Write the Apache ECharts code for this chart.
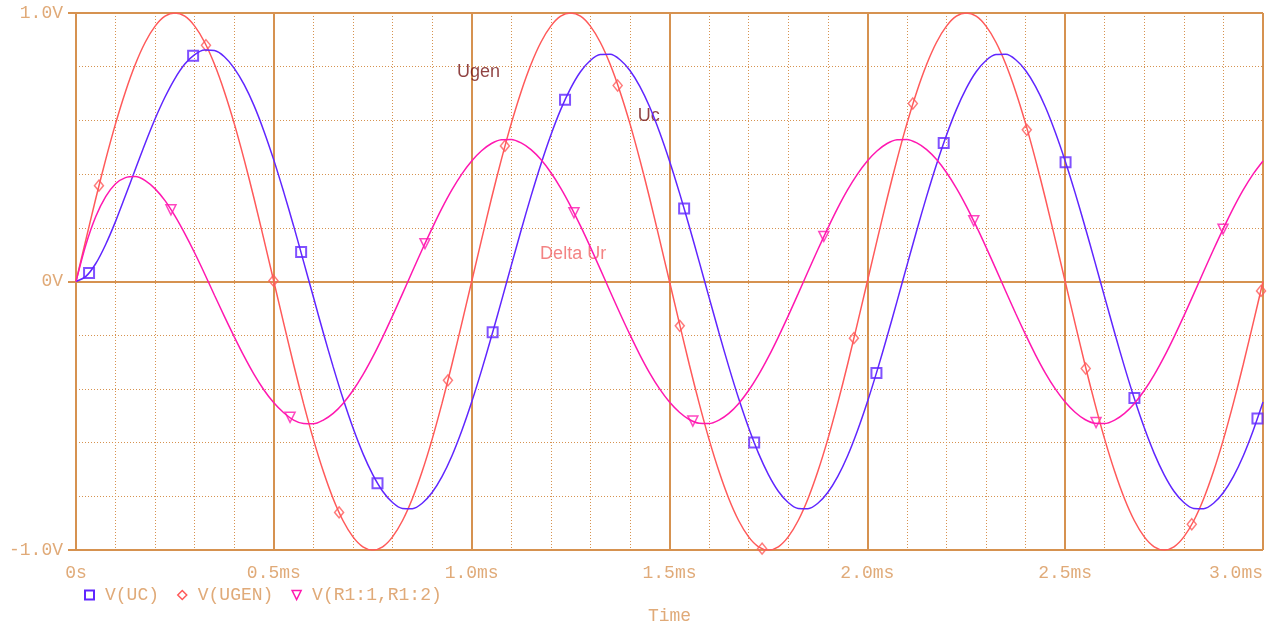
<!DOCTYPE html>
<html>
<head>
    <meta charset="utf-8">
    <title>PSpice RC</title>
    <script src="https://cdnjs.cloudflare.com/ajax/libs/echarts/6.0.0/echarts.min.js"></script>
    <style>
        html, body { margin: 0; padding: 0; background: #fff; }
    </style>
</head>
<body>
    <div id="main" style="width: 1271px;height:623px;"></div>
    <script type="text/javascript">
        // time in ms, one sample every 0.025 ms
        var time = [0, 0.025, 0.05, 0.075, 0.1, 0.125, 0.15, 0.175, 0.2, 0.225, 0.25, 0.275, 0.3, 0.325, 0.35, 0.375, 0.4, 0.425, 0.45, 0.475,
            0.5, 0.525, 0.55, 0.575, 0.6, 0.625, 0.65, 0.675, 0.7, 0.725, 0.75, 0.775, 0.8, 0.825, 0.85, 0.875, 0.9, 0.925, 0.95, 0.975,
            1.0, 1.025, 1.05, 1.075, 1.1, 1.125, 1.15, 1.175, 1.2, 1.225, 1.25, 1.275, 1.3, 1.325, 1.35, 1.375, 1.4, 1.425, 1.45, 1.475,
            1.5, 1.525, 1.55, 1.575, 1.6, 1.625, 1.65, 1.675, 1.7, 1.725, 1.75, 1.775, 1.8, 1.825, 1.85, 1.875, 1.9, 1.925, 1.95, 1.975,
            2.0, 2.025, 2.05, 2.075, 2.1, 2.125, 2.15, 2.175, 2.2, 2.225, 2.25, 2.275, 2.3, 2.325, 2.35, 2.375, 2.4, 2.425, 2.45, 2.475,
            2.5, 2.525, 2.55, 2.575, 2.6, 2.625, 2.65, 2.675, 2.7, 2.725, 2.75, 2.775, 2.8, 2.825, 2.85, 2.875, 2.9, 2.925, 2.95, 2.975,
            3.0];

        var ugen = [0, 0.156, 0.309, 0.454, 0.588, 0.707, 0.809, 0.891, 0.951, 0.988, 1, 0.988, 0.951, 0.891, 0.809, 0.707, 0.588, 0.454, 0.309, 0.156,
            0, -0.156, -0.309, -0.454, -0.588, -0.707, -0.809, -0.891, -0.951, -0.988, -1, -0.988, -0.951, -0.891, -0.809, -0.707, -0.588, -0.454, -0.309, -0.156,
            0, 0.156, 0.309, 0.454, 0.588, 0.707, 0.809, 0.891, 0.951, 0.988, 1, 0.988, 0.951, 0.891, 0.809, 0.707, 0.588, 0.454, 0.309, 0.156,
            0, -0.156, -0.309, -0.454, -0.588, -0.707, -0.809, -0.891, -0.951, -0.988, -1, -0.988, -0.951, -0.891, -0.809, -0.707, -0.588, -0.454, -0.309, -0.156,
            0, 0.156, 0.309, 0.454, 0.588, 0.707, 0.809, 0.891, 0.951, 0.988, 1, 0.988, 0.951, 0.891, 0.809, 0.707, 0.588, 0.454, 0.309, 0.156,
            0, -0.156, -0.309, -0.454, -0.588, -0.707, -0.809, -0.891, -0.951, -0.988, -1, -0.988, -0.951, -0.891, -0.809, -0.707, -0.588, -0.454, -0.309, -0.156,
            0];

        var uc = [0, 0.019, 0.067, 0.138, 0.224, 0.320, 0.418, 0.515, 0.606, 0.687, 0.756, 0.810, 0.845, 0.862, 0.860, 0.837, 0.794, 0.733, 0.655, 0.560,
            0.452, 0.333, 0.207, 0.075, -0.058, -0.191, -0.318, -0.437, -0.545, -0.640, -0.719, -0.781, -0.823, -0.845, -0.846, -0.826, -0.786, -0.727, -0.650, -0.556,
            -0.449, -0.331, -0.205, -0.074, 0.059, 0.191, 0.318, 0.437, 0.545, 0.640, 0.719, 0.781, 0.823, 0.845, 0.846, 0.826, 0.786, 0.727, 0.650, 0.556,
            0.449, 0.331, 0.205, 0.074, -0.059, -0.191, -0.318, -0.437, -0.545, -0.640, -0.719, -0.781, -0.823, -0.845, -0.846, -0.826, -0.786, -0.727, -0.650, -0.556,
            -0.449, -0.331, -0.205, -0.074, 0.059, 0.191, 0.318, 0.437, 0.545, 0.640, 0.719, 0.781, 0.823, 0.845, 0.846, 0.826, 0.786, 0.727, 0.650, 0.556,
            0.449, 0.331, 0.205, 0.074, -0.059, -0.191, -0.318, -0.437, -0.545, -0.640, -0.719, -0.781, -0.823, -0.845, -0.846, -0.826, -0.786, -0.727, -0.650, -0.556,
            -0.449];

        var ur = [0, 0.137, 0.242, 0.316, 0.364, 0.387, 0.391, 0.376, 0.345, 0.301, 0.244, 0.178, 0.106, 0.029, -0.051, -0.130, -0.206, -0.279, -0.346, -0.404,
            -0.452, -0.489, -0.516, -0.529, -0.530, -0.516, -0.491, -0.454, -0.406, -0.348, -0.281, -0.207, -0.128, -0.046, 0.037, 0.119, 0.198, 0.273, 0.341, 0.400,
            0.449, 0.487, 0.514, 0.528, 0.529, 0.516, 0.491, 0.454, 0.406, 0.348, 0.281, 0.207, 0.128, 0.046, -0.037, -0.119, -0.198, -0.273, -0.341, -0.400,
            -0.449, -0.487, -0.514, -0.528, -0.529, -0.516, -0.491, -0.454, -0.406, -0.348, -0.281, -0.207, -0.128, -0.046, 0.037, 0.119, 0.198, 0.273, 0.341, 0.400,
            0.449, 0.487, 0.514, 0.528, 0.529, 0.516, 0.491, 0.454, 0.406, 0.348, 0.281, 0.207, 0.128, 0.046, -0.037, -0.119, -0.198, -0.273, -0.341, -0.400,
            -0.449, -0.487, -0.514, -0.528, -0.529, -0.516, -0.491, -0.454, -0.406, -0.348, -0.281, -0.207, -0.128, -0.046, 0.037, 0.119, 0.198, 0.273, 0.341, 0.400,
            0.449];

        // marker points [ms, V]
        var ucMarks = [[0.033, 0.032], [0.296, 0.841], [0.569, 0.11], [0.762, -0.751], [1.053, -0.189],
            [1.236, 0.677], [1.537, 0.272], [1.714, -0.600], [2.023, -0.341], [2.193, 0.516],
            [2.501, 0.444], [2.675, -0.434], [2.986, -0.510]];
        var ugenMarks = [[0.058, 0.357], [0.3285, 0.880], [0.499, 0.003], [0.665, -0.860], [0.940, -0.368],
            [1.084, 0.505], [1.369, 0.73], [1.526, -0.165], [1.734, -0.995], [1.966, -0.211],
            [2.115, 0.663], [2.403, 0.565], [2.552, -0.324], [2.820, -0.904], [2.995, -0.035]];
        var urMarks = [[0.240, 0.267], [0.541, -0.506], [0.882, 0.141], [1.2585, 0.256], [1.559, -0.520],
            [1.890, 0.168], [2.269, 0.226], [2.578, -0.525], [2.899, 0.195]];

        var names = ['V(UC)', 'V(UGEN)', 'V(R1:1,R1:2)'];
        var timeLabels = ['0s', '0.5ms', '1.0ms', '1.5ms', '2.0ms', '2.5ms', '3.0ms'];
        var voltLabels = ['-1.0V', '0V', '1.0V'];
        var notes = [
            { text: 'Ugen', pos: [0.963, 0.781], color: '#741414' },
            { text: 'Uc', pos: [1.420, 0.617], color: '#741414' },
            { text: 'Delta Ur', pos: [1.173, 0.103], color: '#f06464' }
        ];

        var cUc = '#6026ff', cUgen = '#ff5a5a', cUr = '#ff18b0';
        var axisColor = '#d69250', textColor = '#e0aa78';
        var mono = 'Liberation Mono';

        function pairs(v) {
            return time.map(function (t, i) { return [t, v[i]]; });
        }

        var myChart = echarts.init(document.getElementById('main'));
        var option = {
            animation: false,
            grid: { left: 76, right: 8, top: 13, bottom: 73, outerBoundsMode: 'none', containLabel: false },
            legend: {
                left: 79, top: 581,
                itemWidth: 9, itemHeight: 9, itemGap: 18,
                textStyle: { fontFamily: mono, fontSize: 18, color: textColor, padding: [0, 0, 0, 6] },
                data: [
                    { name: names[0], icon: 'rect', itemStyle: { color: 'rgba(0,0,0,0)', borderColor: cUc, borderWidth: 2 } },
                    { name: names[1], icon: 'diamond', itemStyle: { color: 'rgba(0,0,0,0)', borderColor: cUgen, borderWidth: 1.5 } },
                    { name: names[2], icon: 'path://M0,0L10,0L5,10Z', itemStyle: { color: 'rgba(0,0,0,0)', borderColor: cUr, borderWidth: 1.5 } }
                ]
            },
            xAxis: {
                type: 'value', min: 0, max: 3, interval: 0.5,
                name: 'Time', nameLocation: 'middle', nameGap: 57,
                nameTextStyle: { fontFamily: mono, fontSize: 18, color: textColor },
                axisLine: { lineStyle: { color: axisColor, width: 2 } },
                axisTick: { length: 7, lineStyle: { color: axisColor, width: 2 } },
                axisLabel: {
                    margin: 14, fontFamily: mono, fontSize: 18, color: textColor,
                    alignMaxLabel: 'right',
                    formatter: function (v) { return timeLabels[Math.round(v / 0.5)]; }
                },
                splitLine: { show: true, lineStyle: { color: axisColor, width: 2 } },
                minorTick: { show: false, splitNumber: 5 },
                minorSplitLine: { show: true, lineStyle: { color: axisColor, width: 1, type: [1, 2] } }
            },
            yAxis: {
                type: 'value', min: -1, max: 1, interval: 1,
                axisLine: { show: true, lineStyle: { color: axisColor, width: 2 } },
                axisTick: { show: true, length: 8, lineStyle: { color: axisColor, width: 2 } },
                axisLabel: {
                    margin: 13, fontFamily: mono, fontSize: 18, color: textColor,
                    formatter: function (v) { return voltLabels[Math.round(v + 1)]; }
                },
                splitLine: { show: true, lineStyle: { color: axisColor, width: 2 } },
                minorTick: { show: false, splitNumber: 5 },
                minorSplitLine: { show: true, lineStyle: { color: axisColor, width: 1, type: [1, 2] } }
            },
            series: [
                { name: names[1], type: 'line', data: pairs(ugen), smooth: 0.3, showSymbol: false,
                  lineStyle: { color: cUgen, width: 1.5 }, itemStyle: { color: cUgen } },
                { name: names[0], type: 'line', data: pairs(uc), smooth: 0.3, showSymbol: false,
                  lineStyle: { color: cUc, width: 1.5 }, itemStyle: { color: cUc } },
                { name: names[2], type: 'line', data: pairs(ur), smooth: 0.3, showSymbol: false,
                  lineStyle: { color: cUr, width: 1.5 }, itemStyle: { color: cUr } },
                { name: names[0], type: 'scatter', data: ucMarks, symbol: 'rect', symbolSize: 10,
                  itemStyle: { color: 'rgba(0,0,0,0)', borderColor: cUc, borderWidth: 2 } },
                { name: names[1], type: 'scatter', data: ugenMarks, symbol: 'diamond', symbolSize: [9, 11],
                  itemStyle: { color: 'rgba(0,0,0,0)', borderColor: cUgen, borderWidth: 1.5 } },
                { name: names[2], type: 'scatter', data: urMarks, symbol: 'triangle', symbolRotate: 180, symbolSize: 10,
                  itemStyle: { color: 'rgba(0,0,0,0)', borderColor: cUr, borderWidth: 1.5 } },
                { name: 'notes', type: 'scatter', symbolSize: 0, silent: true,
                  data: notes.map(function (n) {
                      return { value: n.pos, label: { show: true, formatter: n.text, color: n.color } };
                  }),
                  label: { position: 'right', distance: 0, fontFamily: 'Liberation Sans', fontSize: 18 } }
            ]
        };
        myChart.setOption(option);
    </script>
</body>
</html>
